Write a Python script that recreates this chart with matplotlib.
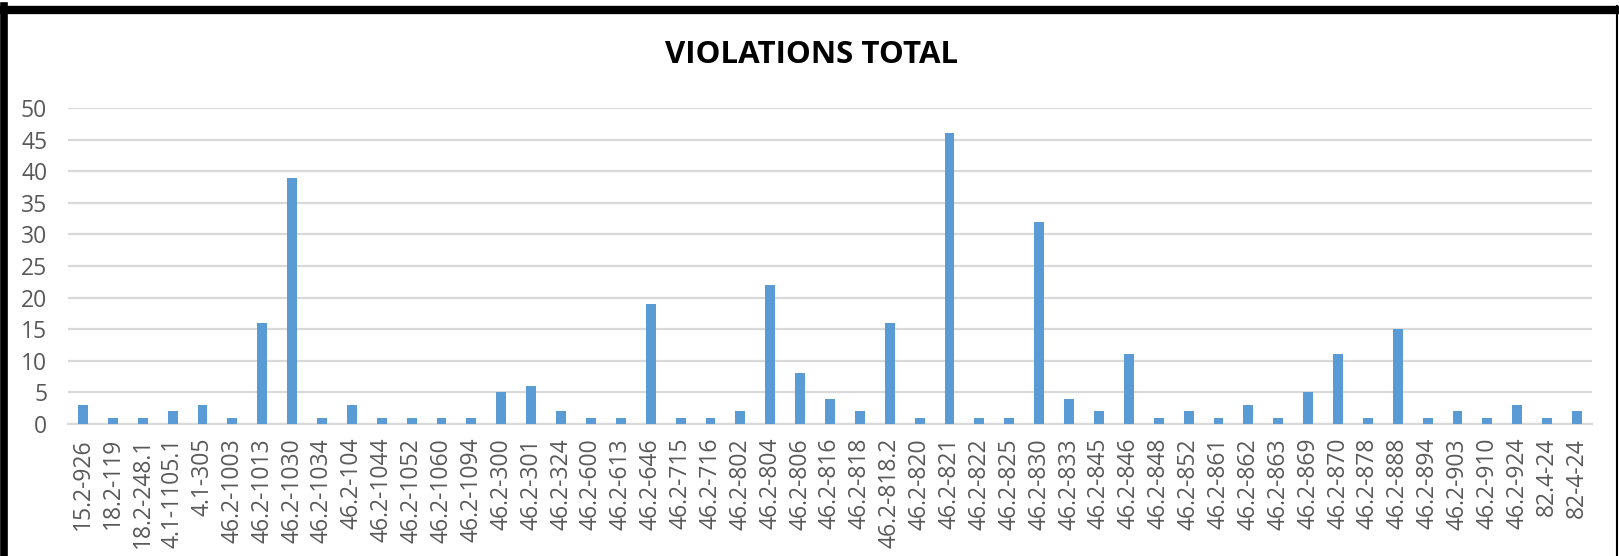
import matplotlib
matplotlib.use("Agg")
import matplotlib.pyplot as plt
from matplotlib.lines import Line2D
import numpy as np

codes = ["15.2-926", "18.2-119", "18.2-248.1", "4.1-1105.1", "4.1-305",
         "46.2-1003", "46.2-1013", "46.2-1030", "46.2-1034", "46.2-104",
         "46.2-1044", "46.2-1052", "46.2-1060", "46.2-1094", "46.2-300",
         "46.2-301", "46.2-324", "46.2-600", "46.2-613", "46.2-646",
         "46.2-715", "46.2-716", "46.2-802", "46.2-804", "46.2-806",
         "46.2-816", "46.2-818", "46.2-818.2", "46.2-820", "46.2-821",
         "46.2-822", "46.2-825", "46.2-830", "46.2-833", "46.2-845",
         "46.2-846", "46.2-848", "46.2-852", "46.2-861", "46.2-862",
         "46.2-863", "46.2-869", "46.2-870", "46.2-878", "46.2-888",
         "46.2-894", "46.2-903", "46.2-910", "46.2-924", "82.4-24", "82-4-24"]
violations = [3, 1, 1, 2, 3, 1, 16, 39, 1, 3,
              1, 1, 1, 1, 5, 6, 2, 1, 1, 19,
              1, 1, 2, 22, 8, 4, 2, 16, 1, 46,
              1, 1, 32, 4, 2, 11, 1, 2, 1, 3,
              1, 5, 11, 1, 15, 1, 2, 1, 3, 1, 2]
yticks = [0, 5, 10, 15, 20, 25, 30, 35, 40, 45, 50]

plt.rcParams['font.family'] = ['Open Sans', 'DejaVu Sans']

W, H = 1619, 556
fig = plt.figure(figsize=(W / 100, H / 100), dpi=100)
ax = fig.add_axes([68 / W, (H - 424) / H, (1592 - 68) / W, (424 - 108) / H])

x = np.arange(len(codes))
ax.bar(x, violations, width=0.33, color="#5b9bd5", zorder=3)

ax.set_xlim(-0.5, len(codes) - 0.5)
ax.set_ylim(0, 50)
ax.set_yticks(yticks)
ax.set_xticks(x)
ax.set_xticklabels(codes, rotation=90)
ax.tick_params(axis="both", length=0, colors="#595959", labelsize=16.5)
ax.tick_params(axis="x", pad=10)
ax.tick_params(axis="y", pad=15)
ax.grid(axis="y", color="#d9d9d9", linewidth=1.6, zorder=0)
for s in ["top", "right", "left"]:
    ax.spines[s].set_visible(False)
ax.spines["bottom"].set_color("#d9d9d9")
ax.spines["bottom"].set_linewidth(1.6)

fig.text(812 / W, 1 - 55 / H, "VIOLATIONS TOTAL", ha="center", va="center",
         fontsize=22.5, fontweight="bold", color="black")

# frame around the chart (only top, left and right are visible)
fig.add_artist(Line2D([0, 1], [1 - 9.5 / H, 1 - 9.5 / H], transform=fig.transFigure,
                      color="black", linewidth=6))
fig.add_artist(Line2D([3.5 / W, 3.5 / W], [0, 1 - 6 / H], transform=fig.transFigure,
                      color="black", linewidth=5.5))
fig.add_artist(Line2D([1617 / W, 1617 / W], [0, 1 - 6 / H], transform=fig.transFigure,
                      color="black", linewidth=1.5))

fig.savefig("out.png", dpi=100, facecolor="white")
